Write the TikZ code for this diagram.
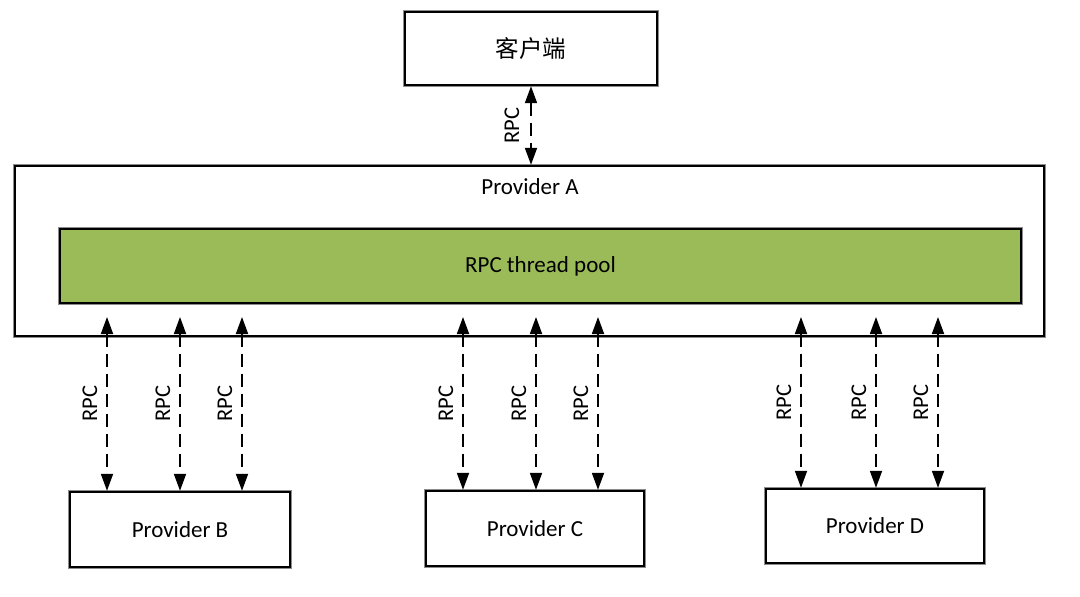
\documentclass[tikz,border=0pt]{standalone}
\usepackage{fontspec}
\setmainfont{Carlito}
\newfontfamily\cjk{Noto Sans CJK SC}
\usetikzlibrary{arrows.meta, positioning}
\definecolor{poolgreen}{HTML}{9BBB59}

\tikzset{
  box/.style={draw=black, line width=2.4pt, preaction={draw=black!45, line width=4.6pt},
    fill=white, inner sep=0pt, font=\fontsize{23}{27}\selectfont},
  rpc/.style={line width=1.8pt, dash pattern=on 13pt off 7pt,
    {Triangle[width=12pt,length=17pt]}-{Triangle[width=12pt,length=17pt]}},
  rpclabel/.style={rotate=90, font=\fontsize{22.5}{27}\selectfont}
}

\begin{document}
\begin{tikzpicture}[x=1pt,y=-1pt]
			\useasboundingbox (0,0) rectangle (1080,597);
			% boxes
			\node[box, minimum width=252pt, minimum height=73pt] (client) at (531,48.5) {\cjk\fontsize{23.5}{27}\selectfont 客户端};
			\node[box, minimum width=1029pt, minimum height=170pt] (pA) at (529.5,251) {};
			\node[font=\fontsize{23}{27}\selectfont] (pAlabel) at (530,187) {Provider A};
			\node[box, fill=poolgreen, minimum width=961pt, minimum height=74pt] (pool) at (540.5,266) {RPC thread pool};
			\node[box, minimum width=220pt, minimum height=75pt] (pB) at (180,529.5) {Provider B};
			\node[box, minimum width=218pt, minimum height=75pt] (pC) at (535,528.5) {Provider C};
			\node[box, minimum width=218pt, minimum height=74pt] (pD) at (875,526) {Provider D};
			% client <-> provider A
			\draw[rpc] (client.south -| 531,0) -- (pA.north -| 531,0) node[midway, xshift=-19pt, rpclabel]{RPC};
			% providers <-> thread pool
			\foreach \x/\p in {107/pB, 180/pB, 242/pB, 463/pC, 536/pC, 598/pC, 801/pD, 876/pD, 938/pD}{
				\coordinate (top\x) at (\x,317);
				\draw[rpc] (top\x) -- (\p.north -| top\x) node[midway, xshift=-17pt, rpclabel]{RPC};
			}
		\end{tikzpicture}
\end{document}
